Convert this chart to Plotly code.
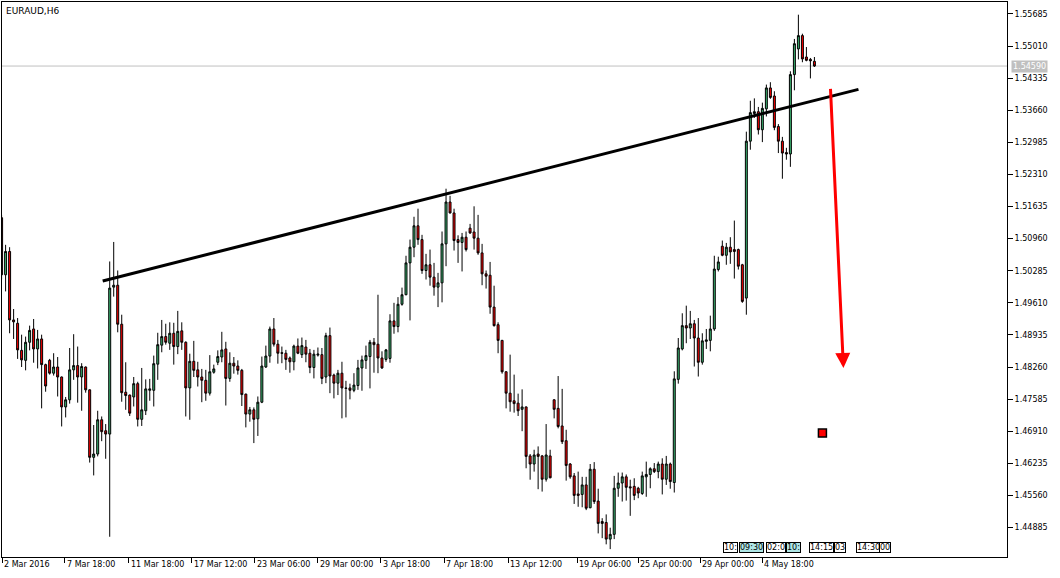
import plotly.graph_objects as go

# ---------------- data (EURAUD, H6) ----------------
open_ = [1.5140, 1.5020, 1.5069, 1.4925, 1.4918, 1.4861, 1.4840, 1.4878, 1.4906, 1.4864,
         1.4885, 1.4831, 1.4840, 1.4813, 1.4826, 1.4805, 1.4742, 1.4757, 1.4820, 1.4829,
         1.4805, 1.4826, 1.4778, 1.4636, 1.4643, 1.4715, 1.4692, 1.4685, 1.4994, 1.4998,
         1.4916, 1.4773, 1.4767, 1.4763, 1.4791, 1.4716, 1.4734, 1.4777, 1.4777, 1.4832,
         1.4872, 1.4890, 1.4876, 1.4897, 1.4869, 1.4902, 1.4878, 1.4782, 1.4838, 1.4820,
         1.4805, 1.4798, 1.4771, 1.4815, 1.4836, 1.4847, 1.4864, 1.4802, 1.4834, 1.4828,
         1.4819, 1.4769, 1.4727, 1.4736, 1.4717, 1.4752, 1.4826, 1.4849, 1.4906, 1.4874,
         1.4856, 1.4855, 1.4845, 1.4837, 1.4870, 1.4852, 1.4868, 1.4855, 1.4825, 1.4851,
         1.4852, 1.4805, 1.4892, 1.4809, 1.4792, 1.4813, 1.4782, 1.4782, 1.4777, 1.4787,
         1.4824, 1.4840, 1.4848, 1.4878, 1.4874, 1.4845, 1.4842, 1.4844, 1.4923, 1.4911,
         1.4958, 1.4978, 1.5045, 1.5078, 1.5123, 1.5094, 1.5029, 1.5041, 1.5015, 1.4994,
         1.5003, 1.5085, 1.5173, 1.5150, 1.5094, 1.5088, 1.5099, 1.5118, 1.5110, 1.5097,
         1.5066, 1.5022, 1.5019, 1.4952, 1.4915, 1.4882, 1.4816, 1.4771, 1.4755, 1.4750,
         1.4737, 1.4742, 1.4639, 1.4622, 1.4643, 1.4639, 1.4590, 1.4639, 1.4757, 1.4739,
         1.4702, 1.4671, 1.4622, 1.4597, 1.4559, 1.4558, 1.4578, 1.4530, 1.4611, 1.4544,
         1.4501, 1.4499, 1.4464, 1.4474, 1.4571, 1.4582, 1.4595, 1.4574, 1.4575, 1.4571,
         1.4560, 1.4595, 1.4600, 1.4612, 1.4606, 1.4622, 1.4590, 1.4622, 1.4583, 1.4800,
         1.4864, 1.4913, 1.4908, 1.4917, 1.4887, 1.4836, 1.4880, 1.4882, 1.4906, 1.5031,
         1.5080, 1.5061, 1.5078, 1.5073, 1.5073, 1.5041, 1.4971, 1.5301, 1.5359, 1.5363,
         1.5325, 1.5369, 1.5413, 1.5396, 1.5332, 1.5301, 1.5277, 1.5274, 1.5441, 1.5495,
         1.5523, 1.5478, 1.5473, 1.5469]
high = [1.5146, 1.5083, 1.5078, 1.4948, 1.4929, 1.4894, 1.4890, 1.4913, 1.4927, 1.4904,
        1.4894, 1.4833, 1.4843, 1.4855, 1.4847, 1.4806, 1.4763, 1.4866, 1.4895, 1.4869,
        1.4834, 1.4827, 1.4779, 1.4704, 1.4734, 1.4722, 1.4706, 1.5048, 1.5089, 1.5029,
        1.4936, 1.4836, 1.4768, 1.4805, 1.4795, 1.4824, 1.4800, 1.4801, 1.4850, 1.4898,
        1.4925, 1.4917, 1.4920, 1.4919, 1.4944, 1.4920, 1.4880, 1.4854, 1.4881, 1.4837,
        1.4822, 1.4820, 1.4851, 1.4831, 1.4861, 1.4900, 1.4879, 1.4857, 1.4847, 1.4840,
        1.4822, 1.4770, 1.4742, 1.4741, 1.4764, 1.4848, 1.4871, 1.4911, 1.4929, 1.4883,
        1.4869, 1.4862, 1.4848, 1.4873, 1.4886, 1.4888, 1.4883, 1.4864, 1.4862, 1.4867,
        1.4866, 1.4898, 1.4909, 1.4812, 1.4820, 1.4837, 1.4797, 1.4791, 1.4813, 1.4841,
        1.4850, 1.4871, 1.4883, 1.4887, 1.4978, 1.4859, 1.4864, 1.4937, 1.4961, 1.4973,
        1.4993, 1.5060, 1.5094, 1.5142, 1.5159, 1.5104, 1.5064, 1.5073, 1.5045, 1.5024,
        1.5111, 1.5201, 1.5186, 1.5159, 1.5103, 1.5108, 1.5111, 1.5127, 1.5164, 1.5146,
        1.5085, 1.5029, 1.5047, 1.4997, 1.4920, 1.4883, 1.4817, 1.4852, 1.4810, 1.4770,
        1.4779, 1.4743, 1.4643, 1.4652, 1.4659, 1.4641, 1.4706, 1.4652, 1.4758, 1.4807,
        1.4780, 1.4694, 1.4624, 1.4603, 1.4606, 1.4595, 1.4595, 1.4622, 1.4626, 1.4570,
        1.4508, 1.4516, 1.4488, 1.4597, 1.4604, 1.4604, 1.4600, 1.4589, 1.4592, 1.4574,
        1.4606, 1.4627, 1.4615, 1.4624, 1.4627, 1.4634, 1.4639, 1.4625, 1.4817, 1.4887,
        1.4939, 1.4955, 1.4944, 1.4925, 1.4929, 1.4897, 1.4906, 1.4934, 1.5060, 1.5058,
        1.5092, 1.5087, 1.5099, 1.5134, 1.5075, 1.5043, 1.5321, 1.5386, 1.5391, 1.5373,
        1.5382, 1.5420, 1.5425, 1.5406, 1.5337, 1.5310, 1.5287, 1.5448, 1.5516, 1.5567,
        1.5527, 1.5499, 1.5476, 1.5478]
low = [1.5010, 1.4985, 1.4897, 1.4885, 1.4843, 1.4826, 1.4819, 1.4861, 1.4835, 1.4823,
       1.4739, 1.4774, 1.4810, 1.4808, 1.4764, 1.4701, 1.4720, 1.4749, 1.4799, 1.4751,
       1.4734, 1.4772, 1.4625, 1.4598, 1.4638, 1.4670, 1.4633, 1.4469, 1.4974, 1.4899,
       1.4753, 1.4736, 1.4723, 1.4743, 1.4701, 1.4702, 1.4725, 1.4755, 1.4743, 1.4799,
       1.4857, 1.4873, 1.4862, 1.4831, 1.4853, 1.4862, 1.4722, 1.4715, 1.4805, 1.4785,
       1.4752, 1.4755, 1.4766, 1.4812, 1.4830, 1.4836, 1.4745, 1.4795, 1.4812, 1.4810,
       1.4744, 1.4699, 1.4711, 1.4666, 1.4681, 1.4750, 1.4824, 1.4835, 1.4869, 1.4833,
       1.4834, 1.4820, 1.4814, 1.4819, 1.4853, 1.4845, 1.4836, 1.4813, 1.4802, 1.4848,
       1.4790, 1.4792, 1.4771, 1.4760, 1.4767, 1.4718, 1.4720, 1.4758, 1.4773, 1.4778,
       1.4776, 1.4822, 1.4781, 1.4814, 1.4813, 1.4822, 1.4837, 1.4835, 1.4896, 1.4899,
       1.4955, 1.4977, 1.4924, 1.5057, 1.5083, 1.5022, 1.5010, 1.4997, 1.4976, 1.4952,
       1.4962, 1.5038, 1.5149, 1.5071, 1.5045, 1.5027, 1.5069, 1.5106, 1.5073, 1.5062,
       1.4998, 1.4991, 1.4938, 1.4911, 1.4855, 1.4812, 1.4739, 1.4732, 1.4730, 1.4723,
       1.4691, 1.4613, 1.4589, 1.4606, 1.4569, 1.4564, 1.4585, 1.4592, 1.4718, 1.4697,
       1.4664, 1.4587, 1.4591, 1.4538, 1.4532, 1.4531, 1.4525, 1.4529, 1.4538, 1.4476,
       1.4466, 1.4453, 1.4443, 1.4464, 1.4553, 1.4543, 1.4545, 1.4513, 1.4546, 1.4550,
       1.4557, 1.4553, 1.4571, 1.4603, 1.4592, 1.4558, 1.4578, 1.4570, 1.4562, 1.4791,
       1.4861, 1.4876, 1.4885, 1.4827, 1.4806, 1.4831, 1.4864, 1.4859, 1.4902, 1.5027,
       1.5059, 1.5041, 1.5043, 1.5012, 1.5031, 1.4961, 1.4936, 1.5283, 1.5350, 1.5315,
       1.5299, 1.5353, 1.5390, 1.5324, 1.5276, 1.5222, 1.5262, 1.5247, 1.5408, 1.5473,
       1.5467, 1.5469, 1.5433, 1.5457]
close = [1.5020, 1.5069, 1.4925, 1.4921, 1.4862, 1.4841, 1.4878, 1.4903, 1.4864, 1.4885,
         1.4831, 1.4786, 1.4813, 1.4826, 1.4805, 1.4742, 1.4757, 1.4820, 1.4829, 1.4805,
         1.4827, 1.4778, 1.4636, 1.4643, 1.4715, 1.4690, 1.4685, 1.4992, 1.4998, 1.4916,
         1.4772, 1.4766, 1.4729, 1.4791, 1.4716, 1.4736, 1.4780, 1.4780, 1.4833, 1.4873,
         1.4890, 1.4878, 1.4897, 1.4869, 1.4901, 1.4878, 1.4782, 1.4838, 1.4819, 1.4805,
         1.4798, 1.4771, 1.4816, 1.4822, 1.4848, 1.4862, 1.4802, 1.4834, 1.4828, 1.4819,
         1.4768, 1.4727, 1.4736, 1.4716, 1.4752, 1.4828, 1.4849, 1.4906, 1.4874, 1.4855,
         1.4855, 1.4842, 1.4837, 1.4870, 1.4855, 1.4871, 1.4853, 1.4825, 1.4853, 1.4853,
         1.4802, 1.4892, 1.4807, 1.4792, 1.4813, 1.4782, 1.4781, 1.4777, 1.4788, 1.4824,
         1.4841, 1.4850, 1.4878, 1.4873, 1.4845, 1.4824, 1.4862, 1.4923, 1.4911, 1.4958,
         1.4978, 1.5045, 1.5078, 1.5123, 1.5094, 1.5029, 1.5041, 1.5015, 1.4994, 1.5003,
         1.5085, 1.5173, 1.5150, 1.5092, 1.5088, 1.5099, 1.5073, 1.5108, 1.5097, 1.5066,
         1.5022, 1.5017, 1.4952, 1.4913, 1.4882, 1.4816, 1.4771, 1.4753, 1.4749, 1.4734,
         1.4742, 1.4638, 1.4622, 1.4641, 1.4638, 1.4590, 1.4641, 1.4593, 1.4737, 1.4701,
         1.4669, 1.4619, 1.4595, 1.4556, 1.4556, 1.4578, 1.4529, 1.4611, 1.4543, 1.4497,
         1.4497, 1.4464, 1.4474, 1.4571, 1.4582, 1.4595, 1.4573, 1.4572, 1.4556, 1.4561,
         1.4597, 1.4600, 1.4612, 1.4606, 1.4622, 1.4590, 1.4622, 1.4585, 1.4801, 1.4866,
         1.4913, 1.4908, 1.4917, 1.4887, 1.4836, 1.4881, 1.4883, 1.4906, 1.5032, 1.5047,
         1.5061, 1.5078, 1.5068, 1.5069, 1.5038, 1.4964, 1.5301, 1.5361, 1.5363, 1.5325,
         1.5370, 1.5413, 1.5393, 1.5330, 1.5301, 1.5276, 1.5274, 1.5441, 1.5506, 1.5523,
         1.5474, 1.5471, 1.5470, 1.5459]
bars = list(range(len(open_)))

price_ticks = [1.44885, 1.45560, 1.46235, 1.46910, 1.47585, 1.48260, 1.48935, 1.49610,
               1.50285, 1.50960, 1.51635, 1.52310, 1.52985, 1.53660, 1.54335, 1.55010, 1.55685]
time_tick_bars = [0.2, 15.75, 31.75, 47.5, 63.25, 79.0, 94.75, 110.5, 126.5, 143.75, 159.0, 174.5, 190.0]
time_tick_labels = ["2 Mar 2016", "7 Mar 18:00", "11 Mar 18:00", "17 Mar 12:00", "23 Mar 06:00",
                    "29 Mar 00:00", "3 Apr 18:00", "7 Apr 18:00", "13 Apr 12:00", "19 Apr 06:00",
                    "25 Apr 00:00", "29 Apr 00:00", "4 May 18:00"]
last_price = 1.54590

trend_x = [25.25, 214.0]
trend_y = [1.5007, 1.5410]
arrow_x = [207.0, 210.25]
arrow_y = [1.5414, 1.4824]
signal_x = [205.0]
signal_y = [1.4687]

# bottom-right time-marker boxes: (left pixel, text, background)
marker_boxes = [(723, "10:", "white"), (739, "09:30", "#aee6e6"), (766, "02:0", "white"),
                (786, "10:", "#aee6e6"), (809, "14:15", "white"), (834, "03", "white"),
                (856, "14:30", "white"), (879, "00", "white")]

FONT = "DejaVu Sans"
FS = 8

fig = go.Figure()

fig.add_trace(go.Candlestick(
    x=bars, open=open_, high=high, low=low, close=close,
    increasing=dict(fillcolor="#3cb371", line=dict(color="black", width=1)),
    decreasing=dict(fillcolor="#ff0000", line=dict(color="black", width=1)),
    whiskerwidth=0, showlegend=False, hoverinfo="skip"))

fig.add_trace(go.Scatter(x=trend_x, y=trend_y, mode="lines",
                         line=dict(color="black", width=3), showlegend=False, hoverinfo="skip"))

fig.add_trace(go.Scatter(x=signal_x, y=signal_y, mode="markers",
                         marker=dict(symbol="square", size=8, color="#ff0000",
                                     line=dict(color="black", width=1.5)),
                         showlegend=False, hoverinfo="skip"))

annotations = []
# red arrow
annotations.append(dict(x=arrow_x[1], y=arrow_y[1], ax=arrow_x[0], ay=arrow_y[0],
                        xref="x", yref="y", axref="x", ayref="y", text="",
                        showarrow=True, arrowhead=2, arrowsize=1.0, arrowwidth=3,
                        arrowcolor="#ff0000", standoff=0))
# title
annotations.append(dict(x=0, y=1, xref="paper", yref="paper", xanchor="left", yanchor="top",
                        xshift=2, yshift=-2, text="EURAUD,H6", showarrow=False,
                        font=dict(family=FONT, size=FS + 1, color="black")))
# time labels (left aligned after tick)
for pos, lab in zip(time_tick_bars, time_tick_labels):
    annotations.append(dict(x=pos, y=0, xref="x", yref="paper", xanchor="left", yanchor="top",
                            xshift=0, yshift=-1, text=lab, showarrow=False,
                            font=dict(family=FONT, size=FS, color="black")))
# current price label
annotations.append(dict(x=1, y=last_price, xref="paper", yref="y", xanchor="left",
                        yanchor="middle", xshift=4, text=f"{last_price:.5f}", showarrow=False,
                        bgcolor="#c0c0c0", borderpad=1,
                        font=dict(family=FONT, size=FS, color="white")))
# time-marker boxes
for left, txt, bg in marker_boxes:
    annotations.append(dict(x=0, y=0, xref="paper", yref="paper", xanchor="left",
                            yanchor="bottom", xshift=left - 2, yshift=4, text=txt,
                            showarrow=False, bgcolor=bg, bordercolor="black", borderwidth=1,
                            borderpad=0, font=dict(family=FONT, size=FS, color="black")))

fig.update_layout(
    width=1060, height=578,
    margin=dict(l=2, r=53, t=2, b=21),
    paper_bgcolor="white", plot_bgcolor="white",
    font=dict(family=FONT, size=FS, color="black"),
    showlegend=False,
    hovermode=False,
    annotations=annotations,
    shapes=[dict(type="line", xref="paper", yref="y", x0=0, x1=1, y0=last_price, y1=last_price,
                 line=dict(color="#c0c0c0", width=1), layer="below")],
    xaxis=dict(range=[0.1, 251.1], showgrid=False, zeroline=False, showline=True,
               linecolor="black", linewidth=1, mirror=True, ticks="outside", ticklen=5,
               tickcolor="black", tickvals=time_tick_bars,
               ticktext=[""] * len(time_tick_bars), rangeslider=dict(visible=False)),
    yaxis=dict(range=[1.44264, 1.55937], side="right", showgrid=False, zeroline=False,
               showline=True, linecolor="black", linewidth=1, mirror=True, ticks="outside",
               ticklen=5, tickcolor="black", tickvals=price_ticks,
               ticktext=[f"{v:.5f}" for v in price_ticks],
               tickfont=dict(family=FONT, size=FS, color="black")),
)

fig.write_html("out.html", config={"displayModeBar": False},
               post_script="document.body.style.margin='0px';")
